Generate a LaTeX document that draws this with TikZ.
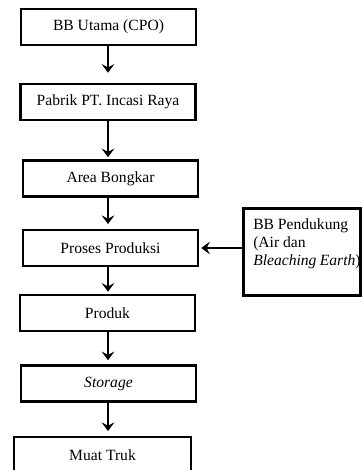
\documentclass[tikz,border=0pt]{standalone}
\usepackage{fontspec}
\setmainfont{Liberation Serif}
\usetikzlibrary{arrows.meta}

\begin{document}
\begin{tikzpicture}[x=0.75pt,y=-0.75pt,
		caixa/.style={draw, line width=1.9pt, minimum width=131.25pt, minimum height=27pt, inner sep=0pt},
		seta/.style={-{Stealth[length=6.5pt,width=9.5pt,inset=2.5pt]}, line width=1.8pt, shorten >=1.5pt}] %Início do diagrama
					\useasboundingbox (0,0) rectangle (361,470); %Margens
					\tikzset{every node/.style={font=\fontsize{11.7}{13.5}\selectfont}}
						%Caixas do fluxo
					\node[caixa] (utama) at (108.5,27) {BB Utama (CPO)};
					\node[caixa] (pabrik) at (108,102) {Pabrik PT. Incasi Raya};
					\node[caixa] (bongkar) at (110.5,178.5) {Area Bongkar};
					\node[caixa] (proses) at (110.5,248) {Proses Produksi};
					\node[caixa] (produk) at (107.5,313) {Produk};
					\node[caixa] (storage) at (108.5,383.5) {\textit{Storage}};
					\node[caixa, minimum width=132.75pt] (truk) at (102.5,455) {Muat Truk};
						%Bahan baku pendukung
					\node[draw, line width=1.9pt, anchor=north west, inner xsep=0pt, inner ysep=8pt] (pendukung) at (242,207)
						{\parbox[t][49.25pt][t]{88pt}{\leftskip=7.5pt BB Pendukung\\(Air dan\\\textit{Bleaching Earth})}};
						%Setas
					\draw[seta, shorten >=7.5pt] (utama.south -| pabrik) -- (pabrik.north);
					\draw[seta] (pabrik.south) -- (pabrik.south |- bongkar.north);
					\draw[seta, shorten >=3.5pt] (bongkar.south -| pabrik) -- (proses.north -| pabrik);
					\draw[seta] (proses.south -| pabrik) -- (produk.north -| pabrik);
					\draw[seta, shorten >=3pt] (produk.south -| pabrik) -- (storage.north -| pabrik);
					\draw[seta, shorten >=3.5pt] (storage.south -| pabrik) -- (truk.north -| pabrik);
					\draw[seta] (pendukung.west |- proses) -- (proses.east); %Entrada lateral
				\end{tikzpicture}
\end{document}
